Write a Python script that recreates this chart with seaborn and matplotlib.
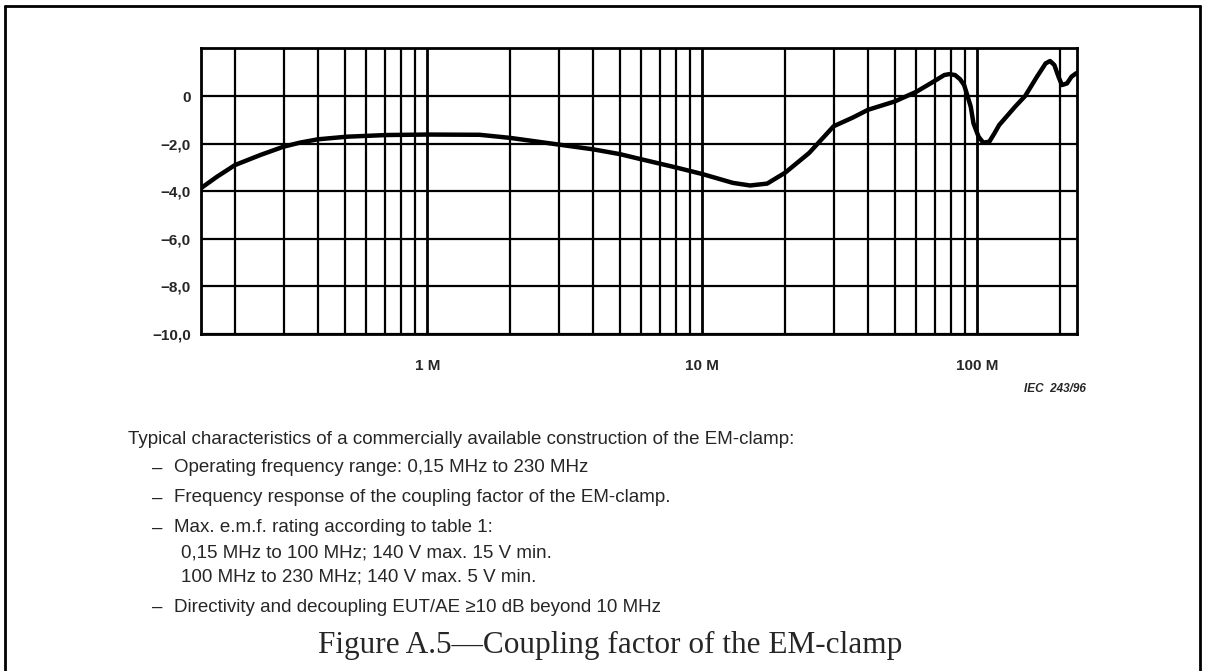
import numpy as np
import pandas as pd
import matplotlib
matplotlib.use("Agg")
import matplotlib.pyplot as plt
import seaborn as sns

# ---- data ----
freq_mhz = [0.15, 0.172, 0.2, 0.247, 0.3, 0.344, 0.4, 0.51, 0.71, 1.0, 1.55, 2.0, 3.0,
            4.0, 5.0, 6.0, 8.0, 10.0, 12.9, 14.9, 17.2, 20.0, 24.4, 30.0, 35.3, 40.0,
            50.0, 60.0, 69.1, 75.7, 79.0, 82.9, 86.5, 89.4, 90.6, 94.5, 96.7, 100.9,
            104.9, 110.4, 115.2, 119.9, 137.0, 149.0, 164.5, 176.9, 183.6, 190.3,
            197.0, 202.7, 211.6, 219.6, 228.0, 230.0]
coupling_db = [-3.88, -3.39, -2.9, -2.48, -2.13, -1.96, -1.82, -1.71, -1.64, -1.62, -1.63,
               -1.76, -2.04, -2.24, -2.44, -2.66, -3.0, -3.28, -3.65, -3.76, -3.68, -3.22,
               -2.4, -1.27, -0.9, -0.58, -0.23, 0.18, 0.6, 0.88, 0.92, 0.88, 0.7, 0.46,
               0.25, -0.45, -1.15, -1.71, -1.96, -1.92, -1.57, -1.22, -0.45, 0.0, 0.81,
               1.37, 1.47, 1.30, 0.81, 0.46, 0.53, 0.81, 0.95, 0.96]
grid_freqs = [0.2, 0.3, 0.4, 0.5, 0.6, 0.7, 0.8, 0.9, 2, 3, 4, 5, 6, 7, 8, 9,
              20, 30, 40, 50, 60, 70, 80, 90, 200]
xtick_vals = [1, 10, 100]
xtick_labels = ["1 M", "10 M", "100 M"]
ytick_vals = [-10, -8, -6, -4, -2, 0]
ytick_labels = ["\u221210,0", "\u22128,0", "\u22126,0", "\u22124,0", "\u22122,0", "0"]

body_title = "Typical characteristics of a commercially available construction of the EM-clamp:"
bullets = [
    "Operating frequency range: 0,15 MHz to 230 MHz",
    "Frequency response of the coupling factor of the EM-clamp.",
    "Max. e.m.f. rating according to table 1:",
    "Directivity and decoupling EUT/AE \u226510 dB beyond 10 MHz",
]
sub_lines = [
    "0,15 MHz to 100 MHz; 140 V max. 15 V min.",
    "100 MHz to 230 MHz; 140 V max. 5 V min.",
]
caption = "Figure A.5\u2014Coupling factor of the EM-clamp"
source_tag = "IEC  243/96"

# ---- style ----
sns.set_style("white")
plt.rcParams["font.family"] = ["Liberation Sans", "DejaVu Sans"]

W, H = 1205, 671
fig = plt.figure(figsize=(W / 100, H / 100), dpi=100)

def px(x, y):
    return x / W, 1 - y / H

left, top, right, bottom = 200.7, 48.4, 1077, 334
ax = fig.add_axes([left / W, 1 - bottom / H, (right - left) / W, (bottom - top) / H])

df = pd.DataFrame({"freq": freq_mhz, "db": coupling_db})
sns.lineplot(data=df, x="freq", y="db", ax=ax, color="black", linewidth=3.2,
             estimator=None, sort=True, zorder=5,
             solid_joinstyle="round", solid_capstyle="round")

ax.set_xscale("log")
ax.set_xlim(0.15, 230)
ax.set_ylim(-10, 2)
ax.set_xlabel("")
ax.set_ylabel("")

ax.set_xticks(xtick_vals)
ax.set_xticklabels(xtick_labels, fontsize=11, fontweight="bold")
ax.set_xticks(grid_freqs, minor=True)
ax.set_xticklabels([], minor=True)
ax.set_yticks(ytick_vals)
ax.set_yticklabels(ytick_labels, fontsize=11, fontweight="bold")
ax.tick_params(axis="both", which="both", length=0)
ax.tick_params(axis="x", pad=18)
ax.tick_params(axis="y", pad=7)

ax.set_axisbelow(True)
ax.grid(which="major", axis="x", color="black", linewidth=2.0)
ax.grid(which="minor", axis="x", color="black", linewidth=1.6)
ax.grid(which="major", axis="y", color="black", linewidth=1.6)
for s in ax.spines.values():
    s.set_visible(True)
    s.set_color("black")
    s.set_linewidth(2.0)

# source tag
fig.text(*px(1086, 389), source_tag, ha="right", va="center", fontsize=8.5,
         style="italic", fontweight="bold")

# body text
fs = 13.5
fig.text(*px(128, 440), body_title, ha="left", va="center", fontsize=fs)
bullet_y = [468, 498, 528, 607]
for yy, t in zip(bullet_y, bullets):
    fig.text(*px(152, yy), "\u2013", ha="left", va="center", fontsize=fs)
    fig.text(*px(174, yy), t, ha="left", va="center", fontsize=fs)
for yy, t in zip([553, 577], sub_lines):
    fig.text(*px(181, yy), t, ha="left", va="center", fontsize=fs)

fig.text(*px(610, 645), caption, ha="center", va="center", fontsize=22.5,
         family=["Liberation Serif", "DejaVu Serif"])

# outer frame
fig.add_artist(plt.Line2D([5 / W, 5 / W], [0, 1 - 6 / H], color="black", linewidth=2,
                          transform=fig.transFigure))
fig.add_artist(plt.Line2D([5 / W, 1200 / W], [1 - 6 / H, 1 - 6 / H], color="black",
                          linewidth=2, transform=fig.transFigure))
fig.add_artist(plt.Line2D([1200 / W, 1200 / W], [0, 1 - 6 / H], color="black", linewidth=2,
                          transform=fig.transFigure))

fig.savefig("out.png", dpi=100)
